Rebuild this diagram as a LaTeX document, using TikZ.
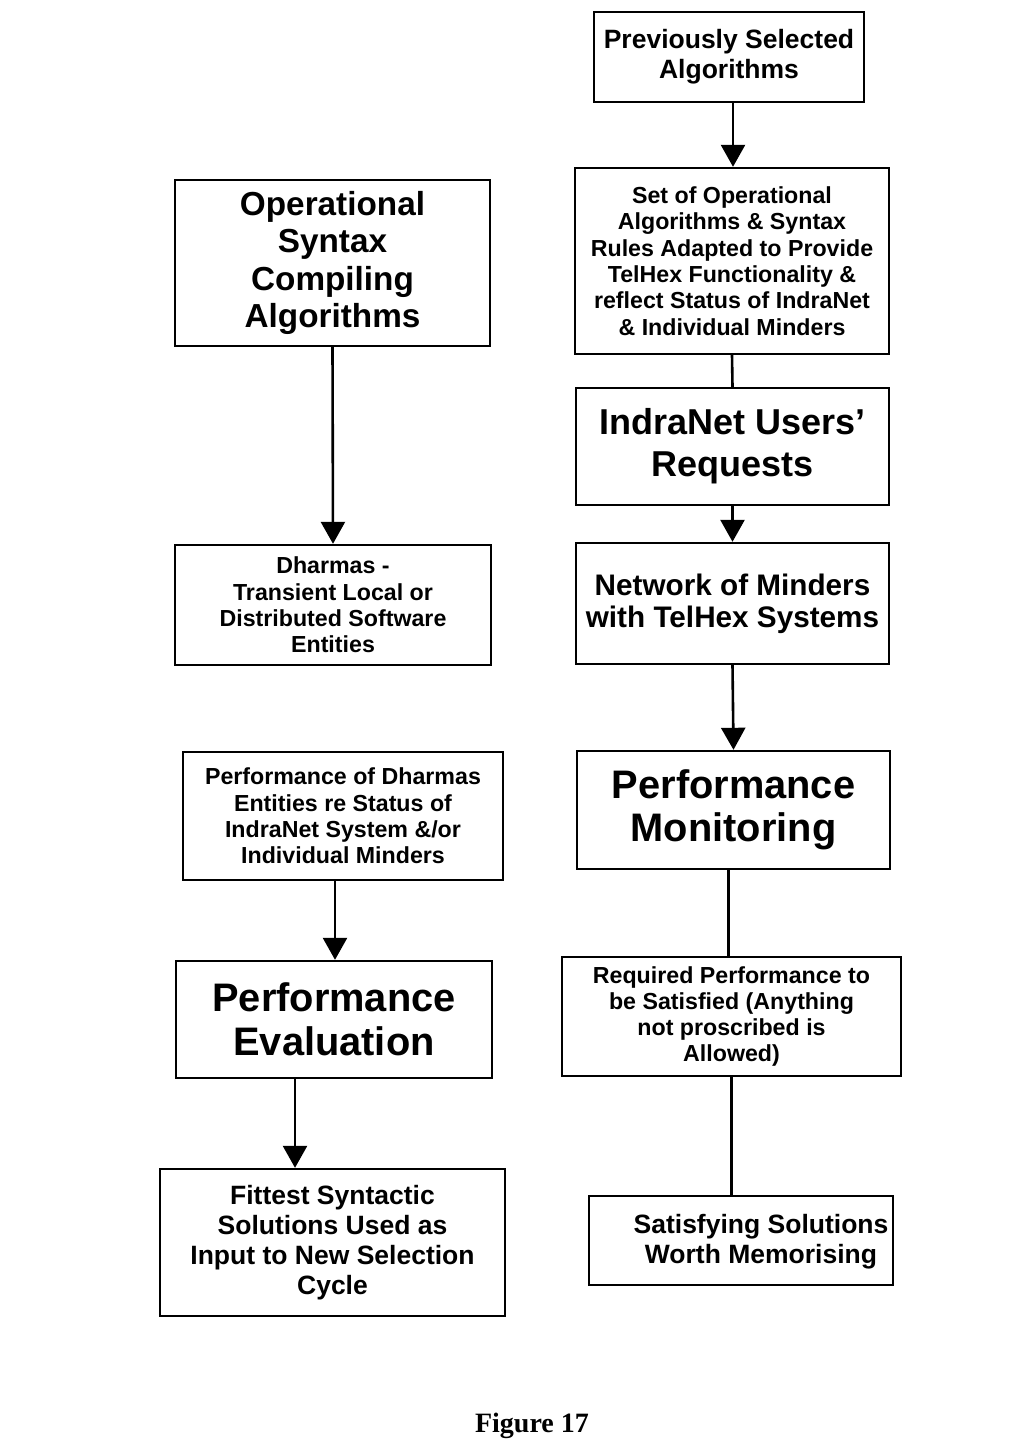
\documentclass[tikz,border=0pt]{standalone}
\usepackage{fontspec}
\setmainfont{Liberation Sans}
\newfontfamily\capfont{Liberation Serif}
\usetikzlibrary{arrows.meta}
\begin{document}
\begin{tikzpicture}[x=1pt,y=-1pt,
  box/.style={draw, line width=2.4pt, inner sep=0pt, align=center},
  fA/.style={font=\bfseries\fontsize{26.5}{30}\selectfont},
  fB/.style={font=\bfseries\fontsize{23.2}{26.3}\selectfont},
  fC/.style={font=\bfseries\fontsize{33.3}{37.5}\selectfont},
  fD/.style={font=\bfseries\fontsize{36}{42}\selectfont},
  fE/.style={font=\bfseries\fontsize{29.7}{32}\selectfont},
  fF/.style={font=\bfseries\fontsize{39.8}{43.5}\selectfont},
  arr/.style={line width=2.6pt, -{Triangle[length=22pt,width=24pt]}},
  ln/.style={line width=2.6pt}]
\useasboundingbox (0,0) rectangle (1019,1447);
% right column
\node[box, fA, minimum width=270, minimum height=90] (p1) at (729,57) {Previously Selected\\Algorithms};
\node[box, fB, minimum width=314, minimum height=186] (p2) at (732,261) {Set of Operational\\Algorithms \& Syntax\\Rules Adapted to Provide\\TelHex Functionality \&\\reflect Status of IndraNet\\\& Individual Minders};
\node[box, fD, minimum width=313, minimum height=117] (p3) at (732.5,446.5) {IndraNet Users’\\Requests};
\node[box, fE, minimum width=313, minimum height=121] (p4) at (732.5,603.5) {Network of Minders\\with TelHex Systems};
\node[box, fF, minimum width=313, minimum height=118] (p5) at (733.5,810) {Performance\\Monitoring};
\node[box, fB, minimum width=339, minimum height=119] (p6) at (731.5,1016.5) {Required Performance to\\be Satisfied (Anything\\not proscribed is\\Allowed)};
\node[box, minimum width=304, minimum height=89] (p7) at (741,1240.5) {};
\node[fA, align=center] (p7t) at (761,1242) {Satisfying Solutions\\Worth Memorising};
% left column
\node[box, fC, minimum width=315, minimum height=166] (a) at (332.5,263) {Operational\\Syntax\\Compiling\\Algorithms};
\node[box, fB, minimum width=316, minimum height=120] (b) at (333,605) {Dharmas -\\Transient Local or\\Distributed Software\\Entities};
\node[box, fB, minimum width=320, minimum height=128] (c) at (343,816) {Performance of Dharmas\\Entities re Status of\\IndraNet System \&/or\\Individual Minders};
\node[box, fF, minimum width=316, minimum height=117] (d) at (334,1019.5) {Performance\\Evaluation};
\node[box, fA, minimum width=345, minimum height=147] (e) at (332.5,1242.5) {Fittest Syntactic\\Solutions Used as\\Input to New Selection\\Cycle};
% caption
\node[font=\capfont\bfseries\fontsize{28}{32}\selectfont] (cap) at (532,1426) {Figure 17};
% connectors
\draw[arr] ([xshift=4]p1.south) -- ([xshift=4]p1.south |- p2.north);
\draw[ln] (p2.south) -- (p3.north);
\draw[arr] (p3.south) -- (p4.north);
\draw[arr] (p4.south) -- (p5.north);
\draw[ln] ([xshift=-5]p5.south) -- ([xshift=-5]p5.south |- p6.north);
\draw[ln] (p6.south) -- (p6.south |- p7.north);
\draw[arr] (a.south) -- (b.north);
\draw[arr] ([xshift=1]d.north |- c.south) -- ([xshift=1]d.north);
\draw[arr] ([xshift=-39]d.south) -- ([xshift=-39]d.south |- e.north);
\end{tikzpicture}
\end{document}
